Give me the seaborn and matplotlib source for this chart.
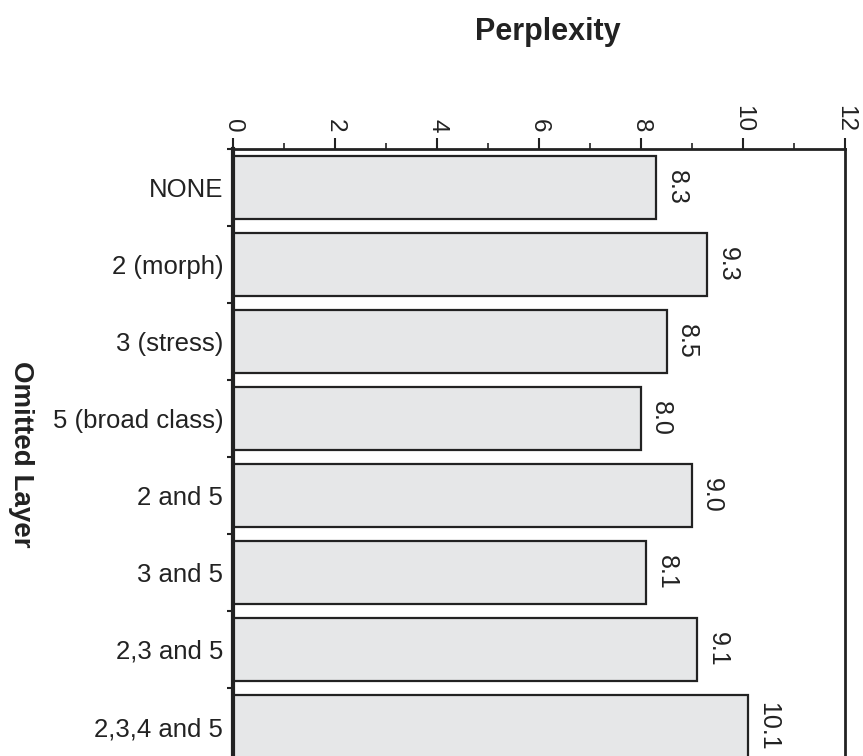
import matplotlib
matplotlib.use("Agg")
import matplotlib.pyplot as plt
from matplotlib.ticker import MultipleLocator, FixedLocator
import seaborn as sns
import pandas as pd

layers = ["NONE", "2 (morph)", "3 (stress)", "5 (broad class)",
          "2 and 5", "3 and 5", "2,3 and 5", "2,3,4 and 5"]
perplexity = [8.3, 9.3, 8.5, 8.0, 9.0, 8.1, 9.1, 10.1]
value_labels = ["8.3", "9.3", "8.5", "8.0", "9.0", "8.1", "9.1", "10.1"]

sns.set_theme(style="white")
plt.rcParams['font.family'] = ['Liberation Sans', 'DejaVu Sans']

df = pd.DataFrame({"layer": layers, "perplexity": perplexity})

fig = plt.figure(figsize=(8.63, 7.56), dpi=100)
ax = fig.add_axes([233/863, 1 - 765/756, (845-233)/863, (765-149)/756])

sns.barplot(data=df, x="perplexity", y="layer", orient="h", ax=ax,
            color="#e6e7e8", edgecolor="#222222", linewidth=1.6,
            width=0.82, saturation=1)

ax.set_xlim(0, 12)
ax.set_ylim(7.5, -0.5)

ax.xaxis.tick_top()
ax.xaxis.set_major_locator(MultipleLocator(2))
ax.xaxis.set_minor_locator(MultipleLocator(1))
ax.tick_params(axis="x", which="major", direction="out", length=8, width=1.5,
               labelsize=17.5, labelrotation=-90, pad=4, colors="#222222",
               top=True, bottom=False)
ax.tick_params(axis="x", which="minor", direction="out", length=4, width=1.2,
               top=True, bottom=False, colors="#222222")
for lbl in ax.get_xticklabels():
    lbl.set_verticalalignment("bottom")

ax.yaxis.set_minor_locator(FixedLocator([i + 0.5 for i in range(-1, 8)]))
ax.tick_params(axis="y", which="major", length=0, labelsize=18.5, pad=7,
               colors="#222222", left=True)
ax.tick_params(axis="y", which="minor", direction="out", length=4, width=1.5,
               left=True, colors="#222222")

ax.set_xlabel("")
ax.set_ylabel("")

for side in ["left", "top", "right"]:
    ax.spines[side].set_visible(True)
    ax.spines[side].set_color("#222222")
ax.spines["left"].set_linewidth(3)
ax.spines["top"].set_linewidth(2)
ax.spines["right"].set_linewidth(2)
ax.spines["bottom"].set_visible(False)

for i, (v, t) in enumerate(zip(perplexity, value_labels)):
    ax.annotate(t, xy=(v, i), xytext=(6, 0), textcoords="offset points",
                rotation=-90, ha="left", va="center", fontsize=18,
                color="#222222")

fig.text(548/863, 1 - 32/756, "Perplexity", ha="center", va="center",
         fontsize=22, fontweight="bold", color="#222222")
fig.text(21/863, 1 - 454/756, "Omitted Layer", ha="center", va="center",
         rotation=-90, fontsize=20, fontweight="bold", color="#222222")

fig.savefig("out.png", dpi=100)
